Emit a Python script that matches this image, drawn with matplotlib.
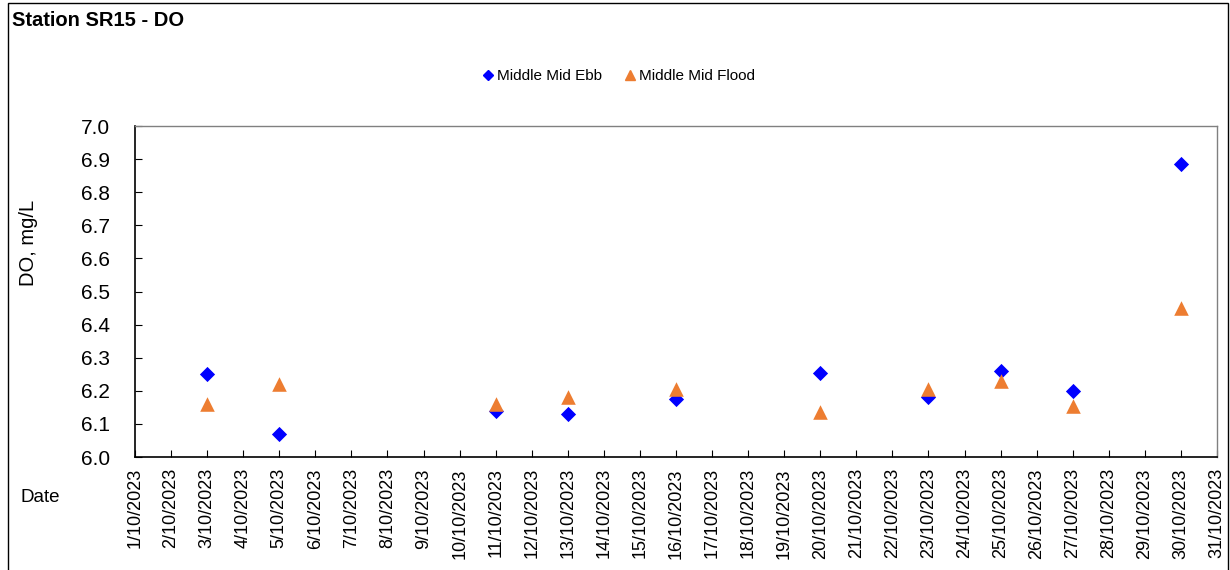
import matplotlib.pyplot as plt
import matplotlib.dates as mdates
from matplotlib.lines import Line2D
import pandas as pd

plt.rcParams['font.family'] = ['Liberation Sans', 'DejaVu Sans']

# Station SR15 - DO, October 2023
dates = ["3/10/2023", "5/10/2023", "11/10/2023", "13/10/2023", "16/10/2023",
         "20/10/2023", "23/10/2023", "25/10/2023", "27/10/2023", "30/10/2023"]
ebb = [6.25, 6.07, 6.14, 6.13, 6.175, 6.255, 6.18, 6.26, 6.20, 6.885]
flood = [6.16, 6.22, 6.16, 6.18, 6.205, 6.135, 6.205, 6.23, 6.155, 6.45]

x = pd.to_datetime(dates, format="%d/%m/%Y")
start = pd.Timestamp(2023, 10, 1)
end = pd.Timestamp(2023, 10, 31)

fig = plt.figure(figsize=(12.3, 5.7), dpi=100)
ax = fig.add_axes([0.1098, 0.1982, 0.8796, 0.5807])

ax.scatter(x, ebb, marker='D', s=60, color='#0000FF', linewidths=0, zorder=3)
ax.scatter(x, flood, marker='^', s=110, color='#ED7D31', linewidths=0, zorder=3)

ax.set_xlim(start, end)
ax.set_ylim(6.0, 7.0)
ax.set_yticks([6.0 + 0.1 * i for i in range(11)])
ax.yaxis.set_major_formatter(plt.FuncFormatter(lambda v, p: f"{v:.1f}"))
ax.xaxis.set_major_locator(mdates.DayLocator())
ax.xaxis.set_major_formatter(plt.FuncFormatter(
    lambda v, p: f"{mdates.num2date(v).day}/{mdates.num2date(v).month}/{mdates.num2date(v).year}"))
ax.tick_params(axis='x', direction='in', length=5, labelsize=13, rotation=90, pad=8)
ax.tick_params(axis='y', direction='in', length=5, labelsize=15, pad=18)

for side in ['left', 'bottom']:
    ax.spines[side].set_color('black')
    ax.spines[side].set_linewidth(1.2)
for side in ['top', 'right']:
    ax.spines[side].set_color('#808080')
    ax.spines[side].set_linewidth(1.0)

fig.text(28 / 1230, 1 - 243 / 570, "DO, mg/L", fontsize=14.5, rotation=90,
         va='center', ha='center')
fig.text(20 / 1230, 1 - 498 / 570, "Date", fontsize=13.5, va='center', ha='left')
fig.text(12 / 1230, 1 - 20 / 570, "Station SR15 - DO", fontsize=14.5, fontweight='bold',
         va='center', ha='left')

handles = [Line2D([], [], marker='D', color='#0000FF', linestyle='none', markersize=5),
           Line2D([], [], marker='^', color='#ED7D31', linestyle='none', markersize=7)]
fig.legend(handles, ["Middle Mid Ebb", "Middle Mid Flood"], loc='center',
           bbox_to_anchor=(617 / 1230, 1 - 76 / 570), ncol=2, frameon=False,
           fontsize=11, handletextpad=0.0, columnspacing=1.2, handlelength=1.2)

# outer frame
fig.add_artist(plt.Rectangle((8 / 1230, -0.01), 1220 / 1230, 1.01 - 3 / 570,
                             transform=fig.transFigure, fill=False,
                             edgecolor='black', linewidth=1.0))

fig.savefig("out.png", dpi=100)
